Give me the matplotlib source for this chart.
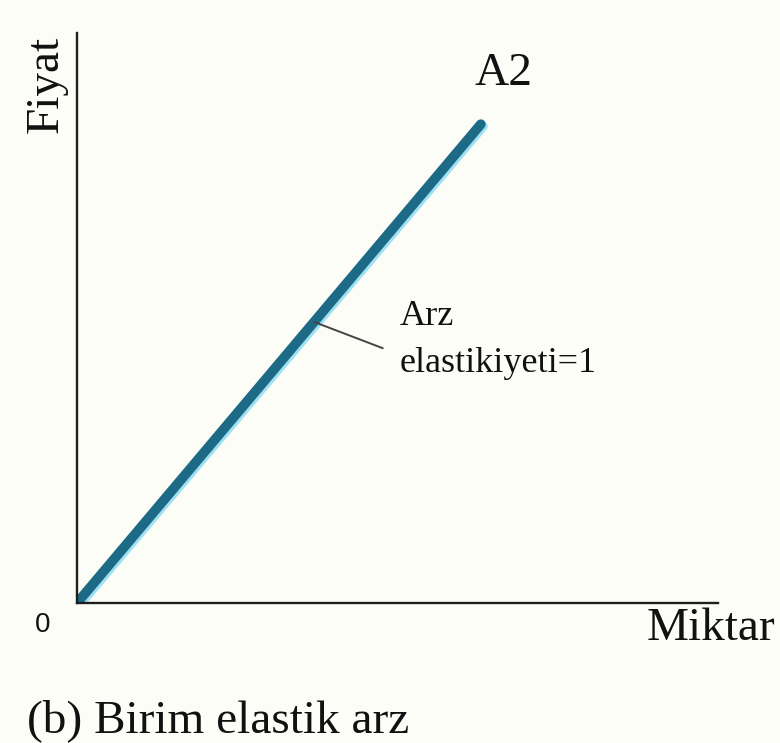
import matplotlib
matplotlib.use('Agg')
import matplotlib.pyplot as plt
import matplotlib.transforms as mtransforms

# supply curve A2 (unit elastic, through the origin)
quantity = [0, 63]
price = [0, 84]
curve_label = 'A2'
note_lines = ['Arz', 'elastikiyeti=1']
x_label = 'Miktar'
y_label = 'Fiyat'
origin_label = '0'
caption = '(b) Birim elastik arz'

serif = ['Liberation Serif', 'DejaVu Serif']
bg = '#fdfdf8'
teal = '#1d6a86'
ink = '#111111'

fig = plt.figure(figsize=(7.8, 7.43), dpi=100, facecolor=bg)
ax = fig.add_axes([77 / 780, 140 / 743, 641 / 780, 570 / 743])
ax.set_facecolor(bg)
ax.set_xlim(0, 100)
ax.set_ylim(0, 100)

for side in ['top', 'right']:
    ax.spines[side].set_visible(False)
for side in ['left', 'bottom']:
    ax.spines[side].set_linewidth(1.7)
    ax.spines[side].set_color('#1e1e1e')
ax.set_xticks([])
ax.set_yticks([])

# light cyan fringe slightly below/right of the dark line
shift = mtransforms.offset_copy(ax.transData, fig=fig, x=1.5, y=-1.5, units='points')
ax.plot(quantity, price, color='#9fe0f2', lw=7, solid_capstyle='round', transform=shift)
ax.plot(quantity, price, color=teal, lw=7, solid_capstyle='round')

ax.text(62, 90.9, curve_label, fontsize=34, family=serif, ha='left', va='baseline', color=ink)

# leader from the curve to the note
t = 0.587
ax.annotate('', xy=(quantity[1] * t, price[1] * t), xytext=(47.7, 44.7),
            arrowprops=dict(arrowstyle='-', color='#444444', lw=1.4, shrinkA=0, shrinkB=0))
ax.text(50.4, 48.8, note_lines[0], fontsize=26, family=serif, ha='left', va='baseline', color=ink)
ax.text(50.4, 40.5, note_lines[1], fontsize=26, family=serif, ha='left', va='baseline', color=ink)

ax.text(0.889, -0.065, x_label, transform=ax.transAxes, fontsize=34, family=serif,
        ha='left', va='baseline', color=ink)
ax.text(-0.047, 0.909, y_label, transform=ax.transAxes, fontsize=34, family=serif,
        ha='center', va='center', rotation=90, color=ink)
ax.text(-0.053, -0.0386, origin_label, transform=ax.transAxes, fontsize=20,
        family=['Liberation Sans', 'DejaVu Sans'], ha='center', va='center', color=ink)

fig.text(27 / 780, 11 / 743, caption, fontsize=34, family=serif, ha='left', va='baseline', color=ink)

fig.savefig('out.png', dpi=100, facecolor=bg)
